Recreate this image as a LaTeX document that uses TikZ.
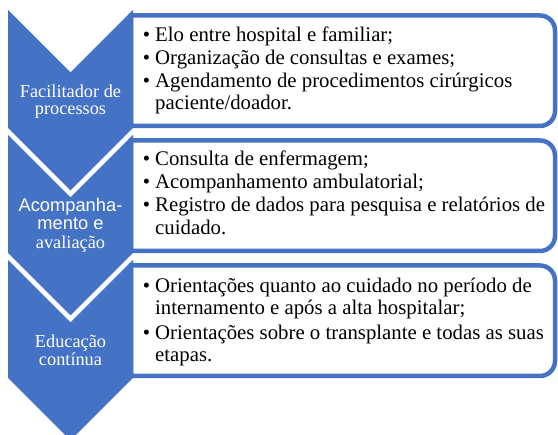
\documentclass[tikz,border=0pt]{standalone}
\usepackage{fontspec}
\setmainfont{Liberation Serif}
\newfontfamily\lsans{Liberation Sans}
\definecolor{cblue}{HTML}{4472C4}
\tikzset{
  boxline/.style={draw=cblue, line width=4.5pt, fill=white},
  chev/.style={fill=cblue, draw=none},
  rt/.style={anchor=base west, inner sep=0pt, text=black, font=\fontsize{20.8}{24}\selectfont},
  lab/.style={anchor=base, inner sep=0pt, text=white, font=\fontsize{18.3}{20}\selectfont},
}
\newcommand{\bul}{\llap{\textbullet\hspace{5pt}}}
\begin{document}
\begin{tikzpicture}[x=1pt,y=1pt]
\useasboundingbox (0,0) rectangle (558,435);
\clip (0,0) rectangle (558,435);
% boxes
\draw[boxline] (131,419.5) -- (540,419.5) arc[start angle=90,end angle=0,radius=15pt] -- (555,324) arc[start angle=0,end angle=-90,radius=15pt] -- (131,309) -- cycle;
\draw[boxline] (131,294.5) -- (540,294.5) arc[start angle=90,end angle=0,radius=15pt] -- (555,199) arc[start angle=0,end angle=-90,radius=15pt] -- (131,184) -- cycle;
\draw[boxline] (131,169.5) -- (540,169.5) arc[start angle=90,end angle=0,radius=15pt] -- (555,74) arc[start angle=0,end angle=-90,radius=15pt] -- (131,59) -- cycle;
% chevrons
\fill[chev] (8,425) -- (70.5,362.5) -- (133,425) -- (133,307) -- (70.5,244.5) -- (8,307) -- cycle;
\fill[chev] (8,300) -- (70.5,237.5) -- (133,300) -- (133,182) -- (70.5,119.5) -- (8,182) -- cycle;
\fill[chev] (8,175) -- (70.5,112.5) -- (133,175) -- (133,57) -- (70.5,-5.5) -- (8,57) -- cycle;
% chevron labels
\node[lab] (c1a) at (70.5,337) {Facilitador de};
\node[lab] (c1b) at (70.5,320) {processos};
\node[lab,font=\lsans\fontsize{18.3}{20}\selectfont] (c2a) at (70.5,223.3) {Acompanha-};
\node[lab,font=\lsans\fontsize{18.3}{20}\selectfont] (c2b) at (70.5,205) {mento e};
\node[lab] (c2c) at (70.5,186.7) {avaliação};
\node[lab] (c3a) at (70.5,87.7) {Educação};
\node[lab] (c3b) at (70.5,69) {contínua};
% box 1 text
\node[rt] (t11) at (155,393) {\bul Elo entre hospital e familiar;};
\node[rt] (t12) at (155,370) {\bul Organização de consultas e exames;};
\node[rt] (t13) at (155,347.7) {\bul Agendamento de procedimentos cirúrgicos};
\node[rt] (t14) at (155,325) {paciente/doador.};
% box 2 text
\node[rt] (t21) at (155,269.3) {\bul Consulta de enfermagem;};
\node[rt] (t22) at (155,246.7) {\bul Acompanhamento ambulatorial;};
\node[rt] (t23) at (155,223.3) {\bul Registro de dados para pesquisa e relatórios de};
\node[rt] (t24) at (155,200) {cuidado.};
% box 3 text
\node[rt] (t31) at (155,142) {\bul Orientações quanto ao cuidado no período de};
\node[rt] (t32) at (155,120) {internamento e após a alta hospitalar;};
\node[rt] (t33) at (155,95) {\bul Orientações sobre o transplante e todas as suas};
\node[rt] (t34) at (155,73.3) {etapas.};
\end{tikzpicture}
\end{document}
